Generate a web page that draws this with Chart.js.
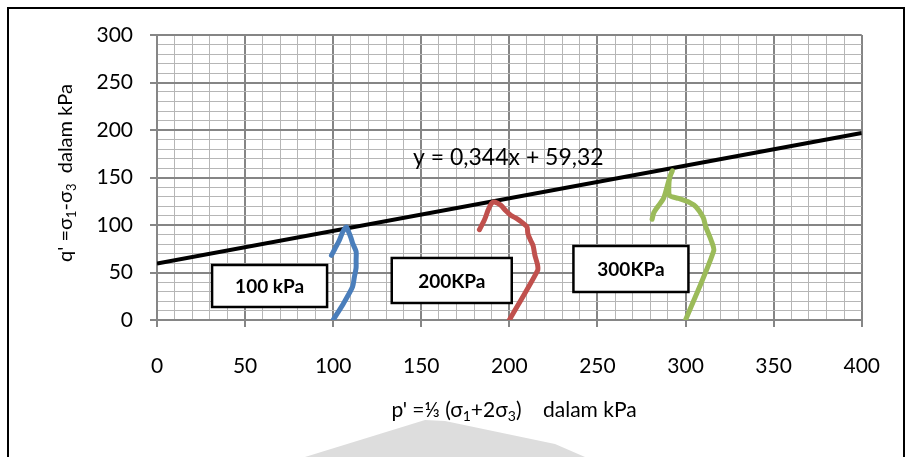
<!DOCTYPE html>
<html>
<head>
<meta charset="utf-8">
<style>
  html, body { margin: 0; padding: 0; background: #fff; }
  canvas { display: block; }
</style>
<script src="https://cdn.jsdelivr.net/npm/chart.js@4/dist/chart.umd.min.js"></script>
</head>
<body>
<canvas id="stressPath" width="907" height="457"></canvas>
<script>
// stress paths (p', q' in kPa)
const pBlue = [100, 106, 111, 112, 113, 113, 113, 111, 110, 108.5, 107.5, 105.5, 103.5, 101, 99];
const qBlue = [0, 18, 35, 45, 55, 63, 72, 81, 87, 94, 98, 93, 84, 75, 68];

const pRed = [200, 216, 216, 214.5, 213.5, 212, 210.5, 210, 207, 204, 201, 198, 195, 192, 190, 188, 186, 183];
const qRed = [0, 52, 58, 68, 78, 84, 91, 98, 103, 107, 110, 115, 121, 124, 123, 116, 106, 95];

const pGreen = [300, 316, 314.5, 311.5, 310, 306, 302, 296, 291, 290.5, 291, 292.5, 291, 289.5, 287.5, 284.5, 282, 281];
const qGreen = [0, 73, 84, 98, 108, 119, 124, 128, 131, 140, 150, 157, 150, 140, 128, 120, 113, 106];

// failure line y = 0,344x + 59,32
const pTrend = [0, 400];
const qTrend = [59.32, 196.92];

const trendLabel = 'y = 0,344x + 59,32';
const boxLabels = ['100 kPa', '200KPa', '300KPa'];
const boxCentersP = [63.9, 167.3, 269];
const boxCentersQ = [35.8, 41.6, 53.7];

const FONT = 'Lato, "Open Sans", sans-serif';

function toPoints(xs, ys) {
    return xs.map(function (x, i) { return { x: x, y: ys[i] }; });
}

function pathDataset(label, xs, ys, color) {
    return {
        label: label,
        data: toPoints(xs, ys),
        showLine: true,
        borderColor: color,
        backgroundColor: color,
        borderWidth: 5,
        borderJoinStyle: 'round',
        borderCapStyle: 'round',
        tension: 0.25,
        pointRadius: 0,
        order: 1
    };
}

// text with subscripts, runs = [[text, isSub], ...]
function drawRuns(ctx, runs, cx, cy, size) {
    const subSize = Math.round(size * 0.66);
    let total = 0;
    runs.forEach(function (r) {
        ctx.font = (r[1] ? subSize : size) + 'px ' + FONT;
        total += ctx.measureText(r[0]).width;
    });
    let x = cx - total / 2;
    ctx.textAlign = 'left';
    ctx.textBaseline = 'middle';
    runs.forEach(function (r) {
        ctx.font = (r[1] ? subSize : size) + 'px ' + FONT;
        ctx.fillText(r[0], x, cy + (r[1] ? size * 0.3 : 0));
        x += ctx.measureText(r[0]).width;
    });
}

const decorPlugin = {
    id: 'decor',
    beforeDraw: function (chart) {
        const ctx = chart.ctx;
        ctx.save();
        // faint watermark at the bottom
        ctx.fillStyle = '#dddddd';
        ctx.beginPath();
        ctx.moveTo(305, 457);
        ctx.lineTo(425, 420);
        ctx.lineTo(445, 421);
        ctx.lineTo(555, 444);
        ctx.lineTo(585, 457);
        ctx.closePath();
        ctx.fill();
        ctx.restore();
    },
    afterDatasetsDraw: function (chart) {
        const ctx = chart.ctx;
        const xs = chart.scales.x, ys = chart.scales.y;
        ctx.save();
        ctx.fillStyle = '#000';
        ctx.font = '23px ' + FONT;
        ctx.textAlign = 'left';
        ctx.textBaseline = 'middle';
        ctx.fillText(trendLabel, 413, 158);

        const sizes = [[115, 42], [120, 45], [115, 46]];
        boxLabels.forEach(function (txt, i) {
            const cx = xs.getPixelForValue(boxCentersP[i]);
            const cy = ys.getPixelForValue(boxCentersQ[i]);
            const w = sizes[i][0], h = sizes[i][1];
            ctx.fillStyle = '#fff';
            ctx.fillRect(cx - w / 2, cy - h / 2, w, h);
            ctx.strokeStyle = '#000';
            ctx.lineWidth = 2.5;
            ctx.strokeRect(cx - w / 2, cy - h / 2, w, h);
            ctx.fillStyle = '#000';
            ctx.font = 'bold 19px ' + FONT;
            ctx.textAlign = 'center';
            ctx.fillText(txt, cx, cy + 1);
        });

        // axis titles
        ctx.fillStyle = '#000';
        drawRuns(ctx, [["p' =\u2153 (\u03c3", false], ['1', true], ['+2\u03c3', false], ['3', true], [')    dalam kPa', false]], 514, 410, 21);
        ctx.translate(66, 173);
        ctx.rotate(-Math.PI / 2);
        drawRuns(ctx, [["q' =\u03c3", false], ['1', true], ['-\u03c3', false], ['3', true], ['  dalam kPa', false]], 0, 0, 20);
        ctx.restore();
    },
    afterDraw: function (chart) {
        const ctx = chart.ctx;
        ctx.save();
        ctx.strokeStyle = '#000';
        ctx.lineWidth = 2;
        ctx.beginPath();
        ctx.moveTo(8, 457);
        ctx.lineTo(8, 8);
        ctx.lineTo(904, 8);
        ctx.lineTo(904, 457);
        ctx.stroke();
        ctx.restore();
    }
};

function isMajor(c) {
    return c.tick && c.tick.value % 50 === 0;
}
function gridColor(c) {
    return isMajor(c) ? '#858585' : '#b6b6b6';
}
function gridWidth(c) {
    return isMajor(c) ? 2 : 1;
}
function tickColor(c) {
    return isMajor(c) ? '#868686' : 'rgba(0,0,0,0)';
}
function majorLabel(v) {
    return v % 50 === 0 ? String(v) : '';
}

new Chart(document.getElementById('stressPath'), {
    type: 'scatter',
    data: {
        datasets: [
            {
                label: 'trend',
                data: toPoints(pTrend, qTrend),
                showLine: true,
                borderColor: '#000',
                backgroundColor: '#000',
                borderWidth: 4,
                pointRadius: 0,
                order: 2
            },
            pathDataset('100 kPa', pBlue, qBlue, '#4a7ebb'),
            pathDataset('200 kPa', pRed, qRed, '#c0504d'),
            pathDataset('300 kPa', pGreen, qGreen, '#9bbb59')
        ]
    },
    options: {
        responsive: false,
        animation: false,
        devicePixelRatio: 1,
        layout: { padding: { top: 35, right: 40, left: 0, bottom: 0 } },
        plugins: {
            legend: { display: false },
            tooltip: { enabled: false }
        },
        scales: {
            x: {
                type: 'linear',
                min: 0,
                max: 400,
                afterFit: function (scale) { scale.height = 137; },
                ticks: {
                    stepSize: 10,
                    autoSkip: false,
                    maxRotation: 0,
                    padding: 27,
                    color: '#000',
                    font: { family: FONT, size: 21 },
                    callback: majorLabel
                },
                grid: { color: gridColor, tickColor: tickColor, tickLength: 7, lineWidth: gridWidth },
                border: { color: '#868686', width: 2 }
            },
            y: {
                type: 'linear',
                min: 0,
                max: 300,
                afterFit: function (scale) { scale.width = 157; },
                ticks: {
                    stepSize: 10,
                    autoSkip: false,
                    padding: 17,
                    color: '#000',
                    font: { family: FONT, size: 21 },
                    callback: majorLabel
                },
                grid: { color: gridColor, tickColor: tickColor, tickLength: 7, lineWidth: gridWidth },
                border: { color: '#868686', width: 2 }
            }
        }
    },
    plugins: [decorPlugin]
});
</script>
</body>
</html>
